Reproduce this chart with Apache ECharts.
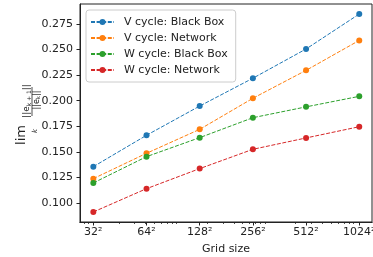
<!DOCTYPE html>
<html>
<head>
<meta charset="utf-8">
<script src="https://cdn.jsdelivr.net/npm/echarts@6/dist/echarts.min.js"></script>
<style>
  html, body { margin: 0; padding: 0; background: #fff; }
  #chart { width: 373px; height: 257px; }
</style>
</head>
<body>
<div id="chart"></div>
<script>
  // grid sizes (N for an N x N grid)
  var gridSizes = [32, 64, 128, 256, 512, 1024];
  var tickLabels = ['32²', '64²', '128²', '256²', '512²', '1024²'];
  var yTicks = [0.100, 0.125, 0.150, 0.175, 0.200, 0.225, 0.250, 0.275];

  var vBlackBox = [0.1355, 0.1662, 0.1948, 0.2220, 0.2506, 0.2848];
  var vNetwork  = [0.1238, 0.1486, 0.1720, 0.2024, 0.2297, 0.2590];
  var wBlackBox = [0.1196, 0.1453, 0.1639, 0.1834, 0.1940, 0.2043];
  var wNetwork  = [0.0912, 0.1140, 0.1336, 0.1525, 0.1636, 0.1746];

  var seriesNames = ['V cycle: Black Box', 'V cycle: Network', 'W cycle: Black Box', 'W cycle: Network'];
  var colors = ['#1f77b4', '#ff7f0e', '#2ca02c', '#d62728'];

  // minor ticks of the matplotlib log axis (N^2 = k * 10^m)
  var minorTicks = [];
  [2, 3, 4, 5, 6].forEach(function (m) {
    for (var k = 2; k <= 9; k++) {
      var n = Math.sqrt(k * Math.pow(10, m));
      if (n > 26.9 && n < 1209) minorTicks.push(n);
    }
  });

  function pairs(vals) {
    return gridSizes.map(function (g, i) { return [g, vals[i]]; });
  }

  var font = 'DejaVu Sans';
  var allData = [vBlackBox, vNetwork, wBlackBox, wNetwork];
  var series = allData.map(function (d, i) {
    return {
      name: seriesNames[i],
      type: 'line',
      data: pairs(d),
      symbol: 'circle',
      symbolSize: 6,
      lineStyle: { width: 1, type: [4, 1.6], color: colors[i] },
      itemStyle: { color: colors[i] },
      animation: false
    };
  });
  // invisible helper so the minor-tick axis is laid out
  series.push({
    name: 'minor', type: 'line', xAxisIndex: 1, data: pairs(vBlackBox),
    symbol: 'none', silent: true, lineStyle: { opacity: 0 }, tooltip: { show: false }
  });

  var chart = echarts.init(document.getElementById('chart'));

  var option = {
    animation: false,
    color: colors,
    grid: {
      left: 80, right: 1, top: 4, bottom: 35,
      outerBoundsMode: 'none',
      show: true, borderColor: '#222', borderWidth: 1
    },
    legend: {
      orient: 'vertical',
      left: 86, top: 10,
      padding: [6.5, 8, 6.5, 4],
      itemWidth: 23, itemHeight: 7.5, itemGap: 5,
      borderColor: '#ccc', borderWidth: 1, borderRadius: 3,
      backgroundColor: 'rgba(255,255,255,0.8)',
      textStyle: { fontFamily: font, fontSize: 11, color: '#222', padding: [0, 0, 0, 5] },
      data: seriesNames
    },
    xAxis: [{
      type: 'log', logBase: 2,
      min: 26.9, max: 1209,
      name: 'Grid size', nameLocation: 'middle', nameGap: 22,
      nameTextStyle: { fontFamily: font, fontSize: 11, color: '#222' },
      axisLine: { show: true, lineStyle: { color: '#222' } },
      axisTick: { show: true, inside: false, length: 3.5, customValues: gridSizes, lineStyle: { color: '#222' } },
      axisLabel: {
        fontFamily: font, fontSize: 11, color: '#222', margin: 5,
        customValues: gridSizes,
        formatter: function (v) {
          var i = gridSizes.indexOf(Math.round(v));
          return i >= 0 ? tickLabels[i] : '';
        }
      },
      splitLine: { show: false }
    }, {
      type: 'log', logBase: 2,
      min: 26.9, max: 1209,
      position: 'bottom', offset: 0,
      axisLine: { show: true, lineStyle: { color: '#222' } },
      axisTick: { show: true, length: 2, customValues: minorTicks, lineStyle: { color: '#222', width: 0.8 } },
      axisLabel: { show: false },
      splitLine: { show: false }
    }],
    yAxis: {
      type: 'value',
      min: 0.0814, max: 0.2946,
      axisLine: { show: true, lineStyle: { color: '#222' } },
      axisTick: { show: true, length: 3.5, customValues: yTicks, lineStyle: { color: '#222' } },
      axisLabel: {
        fontFamily: font, fontSize: 11, color: '#222', margin: 7,
        customValues: yTicks,
        formatter: function (v) { return v.toFixed(3); }
      },
      splitLine: { show: false }
    },
    graphic: [
      { type: 'text', x: 22, y: 135, rotation: Math.PI / 2,
        style: { text: 'lim', fontFamily: font, fontSize: 13, fill: '#222', align: 'center', verticalAlign: 'middle' } },
      { type: 'text', x: 35, y: 131, rotation: Math.PI / 2,
        style: { text: 'k', fontFamily: font, fontSize: 7, fontStyle: 'italic', fill: '#222', align: 'center', verticalAlign: 'middle' } },
      { type: 'text', x: 27, y: 101, rotation: Math.PI / 2,
        style: { text: '{n|||e}{s|k + 1}{n|||}', fontFamily: font, fill: '#222', align: 'center', verticalAlign: 'middle',
          rich: { n: { fontFamily: font, fontSize: 9, fill: '#222' }, s: { fontFamily: font, fontSize: 6, fill: '#222', padding: [4, 0, 0, 0] } } } },
      { type: 'line', shape: { x1: 32, y1: 87, x2: 32, y2: 116 }, style: { stroke: '#222', lineWidth: 0.8 } },
      { type: 'text', x: 36.5, y: 100, rotation: Math.PI / 2,
        style: { text: '{n|||e}{s|k}{n|||}', fontFamily: font, fill: '#222', align: 'center', verticalAlign: 'middle',
          rich: { n: { fontFamily: font, fontSize: 8, fill: '#222' }, s: { fontFamily: font, fontSize: 5.5, fill: '#222', padding: [4, 0, 0, 0] } } } }
    ],
    series: series
  };

  chart.setOption(option);
  window.addEventListener('resize', function () {
    chart.resize();
  });
</script>
</body>
</html>
